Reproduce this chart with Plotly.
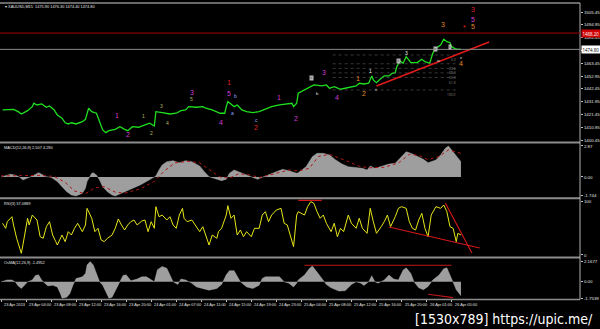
import plotly.graph_objects as go

# ---------------- data (x = M15 bar index) ----------------
price_bars = [1, 8, 11, 13, 17, 20, 21, 23, 26, 29, 31, 34, 36, 39, 41, 43, 45, 48, 52, 54, 56, 58, 61, 63, 65, 67, 69, 73, 76, 79,
              81, 84, 88, 92, 95, 98, 99, 103, 108, 112, 115, 118, 120, 125, 129, 131, 135, 140, 143, 144, 145, 147, 149, 151, 154,
              157, 161, 165, 169, 173, 178, 182, 186, 187, 189, 190, 194, 197, 200, 205, 208, 210, 213, 217, 220, 224, 227, 229,
              232, 235, 237, 238, 240, 243, 245, 248, 250, 252, 253, 255, 257, 259, 262, 266, 269, 271, 274, 276, 278, 281, 283,
              285, 287, 288, 291, 294]
price_vals = [1425.1, 1425.6, 1423.7, 1421.8, 1424.5, 1427.8, 1430.6, 1429.2, 1430.0, 1427.3, 1428.4, 1425.1, 1421.0, 1418.3,
              1414.6, 1413.6, 1414.6, 1413.6, 1415.5, 1417.4, 1426.5, 1423.7, 1422.4, 1415.5, 1408.7, 1406.5, 1408.1, 1409.2,
              1411.4, 1409.2, 1408.1, 1411.4, 1410.9, 1412.8, 1414.2, 1411.9, 1423.7, 1422.9, 1421.8, 1422.4, 1424.5, 1425.1,
              1427.8, 1427.3, 1427.8, 1426.5, 1425.1, 1422.4, 1422.4, 1427.8, 1431.9, 1430.0, 1427.8, 1429.2, 1425.1, 1423.7,
              1422.9, 1423.7, 1425.6, 1427.8, 1429.2, 1430.0, 1430.6, 1427.8, 1430.6, 1438.8, 1441.5, 1444.2, 1445.6, 1444.8,
              1445.6, 1442.9, 1444.2, 1442.1, 1442.9, 1443.7, 1444.8, 1447.0, 1446.4, 1447.0, 1453.0, 1449.7, 1447.5, 1451.1,
              1453.0, 1453.0, 1455.2, 1455.7, 1460.6, 1465.5, 1463.4, 1468.8, 1463.9, 1463.9, 1466.7, 1464.7, 1463.4, 1471.6,
              1475.7, 1478.4, 1483.1, 1481.1, 1480.3, 1477.0, 1474.9, 1474.8]

macd_bars = [0, 6, 9, 12, 14, 17, 20, 24, 26, 29, 32, 36, 39, 42, 45, 48, 52, 54, 55, 58, 59, 61, 63, 65, 68, 71, 73, 76, 80, 84,
             89, 93, 97, 99, 101, 103, 106, 110, 114, 118, 122, 127, 130, 133, 138, 141, 144, 146, 149, 152, 157, 161, 164, 167,
             171, 176, 180, 184, 189, 190, 195, 199, 202, 206, 210, 214, 218, 222, 227, 231, 234, 236, 239, 243, 248, 252, 255,
             259, 262, 266, 270, 273, 278, 281, 284, 286, 289, 292, 294]
macd_hist = [0.0, 0.25, 0.18, -0.03, -0.28, -0.12, 0.09, 0.40, 0.25, 0.03, -0.03, -0.43, -0.90, -1.36, -1.67, -1.76, -1.51,
             -1.05, -0.43, 0.34, 0.40, 0.18, -0.28, -0.90, -1.36, -1.67, -1.76, -1.57, -1.36, -1.05, -0.74, -0.43, -0.12, 0.09,
             0.65, 1.11, 1.42, 1.51, 1.32, 1.51, 1.42, 1.02, 0.49, 0.03, -0.21, -0.34, -0.21, 0.34, 0.65, 0.49, 0.18, -0.03,
             -0.21, -0.03, 0.18, 0.49, 0.71, 0.58, 0.34, 0.40, 0.95, 1.88, 2.19, 2.19, 2.04, 1.57, 1.20, 0.95, 0.90, 0.80, 0.65,
             1.02, 0.80, 0.95, 1.20, 1.27, 1.73, 2.34, 2.19, 1.88, 1.64, 1.32, 1.57, 2.04, 2.66, 2.87, 2.34, 1.73, 1.42]
signal_bars = [0, 12, 25, 34, 41, 47, 54, 60, 66, 73, 79, 89, 98, 104, 111, 120, 127, 133, 140, 146, 152, 159, 165, 175, 184,
               190, 197, 203, 210, 219, 229, 235, 245, 254, 261, 267, 273, 280, 286, 294]
signal_vals = [0.1, 0.1, 0.15, 0.05, -0.5, -1.3, -1.55, -1.0, -0.9, -1.4, -1.5, -1.1, -0.4, 0.5, 1.3, 1.45, 1.3, 0.7, 0.0,
               -0.1, 0.3, 0.2, -0.05, 0.3, 0.65, 0.55, 0.8, 1.9, 2.1, 1.6, 1.0, 0.85, 0.9, 1.3, 2.1, 2.0, 1.6, 1.9, 2.5, 2.2]

rsi_bars = [1, 3, 4, 7, 8, 10, 12, 13, 14, 17, 18, 20, 23, 25, 27, 29, 31, 33, 35, 36, 39, 41, 43, 45, 47, 49, 52, 54, 55, 58,
            60, 62, 64, 66, 68, 71, 73, 75, 77, 79, 81, 83, 85, 87, 90, 92, 94, 96, 98, 99, 101, 103, 106, 108, 110, 112, 114,
            116, 117, 119, 122, 125, 127, 129, 131, 133, 135, 138, 139, 141, 144, 145, 147, 149, 151, 153, 155, 157, 160, 162,
            165, 167, 169, 171, 173, 176, 179, 181, 183, 185, 187, 189, 190, 194, 196, 198, 200, 202, 204, 206, 208, 211, 213,
            215, 217, 219, 222, 224, 227, 229, 231, 234, 236, 238, 240, 243, 245, 247, 249, 252, 254, 256, 259, 261, 263, 265,
            267, 269, 271, 273, 275, 278, 281, 283, 285, 287, 289, 291, 292, 294]
rsi_vals = [58.7, 49.4, 61.7, 70.9, 55.6, 30.9, 12.4, 3.1, 18.5, 68, 55.6, 74, 64.8, 33.9, 30.9, 52.4, 61.7, 37, 24.7, 18.5,
            37, 24.7, 43.2, 37, 49.4, 58.7, 43.2, 55.6, 86.4, 68, 43.2, 49.4, 27.8, 24.7, 30.9, 37, 49.4, 66.7, 55.6, 46.3, 55.6,
            61.7, 64.8, 55.6, 63, 64.8, 43.2, 61.7, 49.4, 89.5, 70.9, 74, 64.8, 70.9, 55.6, 49.4, 74, 86.4, 68, 61.7, 64.8, 52.4,
            43.2, 52.4, 33.9, 18.5, 37, 30.9, 43.2, 49.4, 74, 91.3, 68, 74, 37, 46.3, 33.9, 43.2, 33.9, 49.4, 49.4, 74, 80.2,
            61.7, 74, 83.3, 86.4, 58.7, 55.6, 37, 15.4, 74, 80.2, 74, 89.5, 98.7, 95.7, 80.2, 68, 74, 58.7, 43.2, 58.7, 33.9,
            49.4, 43.2, 74, 58.7, 49.4, 68, 49.4, 40.1, 86.4, 61.7, 40.1, 52.4, 61.7, 74, 52.4, 70.9, 86.4, 89.5, 86.4, 61.7,
            49.4, 46.3, 64.8, 77.2, 49.4, 33.9, 74, 89.5, 86.4, 92.6, 80.2, 52.4, 49.4, 24.7, 40.1, 37.1]

osma_bars = [0, 4, 7, 9, 11, 13, 15, 17, 20, 22, 24, 26, 28, 30, 33, 36, 38, 39, 42, 44, 46, 48, 52, 54, 55, 57, 59, 61, 63,
             65, 67, 69, 71, 74, 76, 78, 80, 83, 87, 90, 93, 96, 98, 100, 103, 106, 108, 110, 113, 115, 118, 122, 125, 129, 133,
             138, 141, 144, 146, 149, 151, 153, 157, 161, 165, 167, 169, 173, 178, 181, 184, 187, 189, 190, 194, 197, 199, 202,
             205, 208, 211, 216, 220, 224, 227, 230, 232, 235, 237, 239, 241, 245, 248, 251, 254, 257, 259, 262, 264, 267, 270,
             273, 276, 280, 283, 285, 287, 289, 291, 294]
osma_vals = [0, 0.2, 0.2, 0, -0.44, -0.72, -0.36, 0, 0.2, 0.68, 0.75, 0.2, -0.16, -0.44, -0.36, -0.55, -1.28, -1.76, -1.65,
             -1.28, -0.36, 0.35, 0.53, 0.9, 1.81, 2.17, 1.81, 0.9, 0, -0.36, -1.1, -1.76, -1.65, -0.72, 0, 0.68, 0.75, 0.1, 0.3,
             0.53, 0.53, 0.2, 0, 1.3, 1.65, 1.45, 0.75, 0, -0.28, 0.3, 0.2, -0.16, -0.55, -0.72, -0.9, -0.72, -0.28, 0.75, 1.2,
             1.2, 0.53, 0, -0.55, -0.72, -0.36, 0.35, 0.53, 0.53, 0.53, 0, -0.16, -0.55, -0.16, 0.2, 0.72, 1.4, 1.7, 1.06, 0.35,
             -0.3, -0.65, -1.0, -0.95, -0.3, 0, -0.15, -0.4, 0, 0.65, 0, -0.15, 0.2, 0.72, 0.3, 0.2, 1.25, 1.5, 0.9, 0, -0.65,
             -0.85, -0.5, 0.2, 0.72, 1.4, 1.5, 0.72, -0.15, -0.85, -1.5]

time_tick_bars = [0, 16, 32, 48, 64, 80, 96, 112, 128, 144, 160, 176, 192, 208, 224, 240, 256, 272, 288]
time_tick_labels = ["23 Apr 2013", "23 Apr 04:00", "23 Apr 08:00", "23 Apr 12:00", "23 Apr 16:00", "23 Apr 20:00",
                    "24 Apr 01:00", "24 Apr 07:00", "24 Apr 11:00", "24 Apr 15:00", "24 Apr 19:00", "24 Apr 23:00",
                    "25 Apr 04:00", "25 Apr 08:00", "25 Apr 12:00", "25 Apr 16:00", "25 Apr 20:00", "26 Apr 01:00",
                    "26 Apr 05:00"]

price_ticks = [1505.45, 1494.95, 1484.45, 1473.95, 1463.45, 1452.95, 1442.45, 1431.95, 1421.45, 1410.95, 1400.45]
macd_ticks = [2.87, 0.0, -1.744]
macd_tick_text = ["2.87", "0.00", "-1.744"]
rsi_ticks = [100, 0]
osma_ticks = [2.1677, 0.0, -1.7539]
osma_tick_text = ["2.1677", "0.00", "-1.7539"]

bid_price = 1474.80
red_level = 1488.2
trend_bars = [240, 312]
trend_prices = [1444.7, 1480.8]
fib_bars = [212, 292]
fib_levels = [1470.2, 1463.0, 1459.2, 1455.5, 1451.7, 1441.5]
fib_labels = ["0.0", "23.6", "38.2", "50.0", "61.8", "100.0"]

rsi_top_bars, rsi_top_vals = [190, 205], [101, 101]
rsi_down_bars, rsi_down_vals = [248, 306], [51.9, 13.0]
rsi_steep_bars, rsi_steep_vals = [284, 301], [96.3, 3.7]
osma_top_bars, osma_top_vals = [194, 288], [1.78, 1.78]
osma_low_bars, osma_low_vals = [273, 289], [-1.34, -1.71]

MAG, OLV, ORG, RED, BLU, WHT = "#d23cd2", "#b8b860", "#e08a2a", "#e02020", "#8fa8ff", "#e8e8e8"
wave_text = ["1", "2", "1", "2", "3", "4", "5", "3", "4", "1", "5", "a", "b", "c", "2", "1", "2", "3", "4", "1", "2",
             "3", "4", "5", "3", "5", "*", "1", "3", "b", "ii", "iv", "v"]
wave_bars = [73.9, 80.9, 91.1, 96.2, 102.5, 106.4, 121.7, 122.3, 140.8, 145.9, 145.9, 147.8, 149.7, 163.1, 163.1, 177.7,
             188.5, 206.4, 214.6, 228.0, 231.8, 282.8, 294.3, 301.9, 301.9, 301.9, 296.2, 236.3, 259.2, 202.5, 239.5, 279.6,
             294.3]
wave_prices = [1420.9, 1404.6, 1420.1, 1406.2, 1428.3, 1414.4, 1434.1, 1439.8, 1414.4, 1448.0, 1439.0, 1422.6, 1436.5,
               1416.9, 1410.3, 1435.7, 1418.5, 1456.2, 1435.7, 1450.5, 1439.0, 1494.8, 1462.8, 1493.2, 1507.1, 1499.7,
               1492.4, 1457.0, 1471.8, 1438.2, 1441.5, 1465.3, 1468.5]
wave_colors = [MAG, MAG, OLV, OLV, OLV, OLV, OLV, MAG, MAG, RED, MAG, BLU, BLU, BLU, RED, MAG, MAG, MAG, MAG, ORG, ORG,
               ORG, ORG, ORG, RED, MAG, RED, WHT, WHT, WHT, WHT, WHT, WHT]
wave_sizes = [7, 7, 5, 5, 5, 5, 5, 7, 7, 7, 7, 5, 5, 5, 7, 7, 7, 7, 7, 7, 7, 7, 7, 7, 7, 7, 7, 5, 5, 4, 4, 4, 4]
box_text = ["iii", "iii", "iv", "v"]
box_bars = [198.7, 254.1, 277.7, 287.3]
box_prices = [1451.3, 1465.3, 1475.1, 1476.7]

# ---------------- geometry ----------------
W, H = 600, 329
ML, MR, MT, MB = 0, 18, 3, 30
PH = H - MT - MB


def py(pix):
    return (H - MB - pix) / PH


XR = [-0.64, 370.1]
D_PRICE = [py(142), py(MT)]
D_MACD = [py(197.5), py(143.5)]
D_RSI = [py(256.5), py(199)]
D_OSMA = [0, py(258.5)]

fig = go.Figure()
fig.add_trace(go.Scatter(x=price_bars, y=price_vals, mode="lines", line=dict(color="#1fe01f", width=1.3),
                         xaxis="x", yaxis="y", hoverinfo="skip"))
for lv in fib_levels:
    fig.add_trace(go.Scatter(x=fib_bars, y=[lv, lv], mode="lines", line=dict(color="#6e6e6e", width=0.5, dash="dot"),
                             xaxis="x", yaxis="y", hoverinfo="skip"))
fig.add_trace(go.Scatter(x=trend_bars, y=trend_prices, mode="lines", line=dict(color="#e01a1a", width=1.6),
                         xaxis="x", yaxis="y", hoverinfo="skip"))

fig.add_trace(go.Scatter(x=macd_bars, y=macd_hist, mode="lines", fill="tozeroy", fillcolor="rgba(175,175,175,0.9)",
                         line=dict(color="#b4b4b4", width=0.4), xaxis="x2", yaxis="y2", hoverinfo="skip"))
fig.add_trace(go.Scatter(x=signal_bars, y=signal_vals, mode="lines", line=dict(color="#b01818", width=1, dash="dot"),
                         xaxis="x2", yaxis="y2", hoverinfo="skip"))

fig.add_trace(go.Scatter(x=rsi_bars, y=rsi_vals, mode="lines", line=dict(color="#e6e619", width=1),
                         xaxis="x3", yaxis="y3", hoverinfo="skip"))
for xs, ys in [(rsi_top_bars, rsi_top_vals), (rsi_down_bars, rsi_down_vals), (rsi_steep_bars, rsi_steep_vals)]:
    fig.add_trace(go.Scatter(x=xs, y=ys, mode="lines", line=dict(color="#d01818", width=1.2),
                             xaxis="x3", yaxis="y3", hoverinfo="skip"))

fig.add_trace(go.Scatter(x=osma_bars, y=osma_vals, mode="lines", fill="tozeroy", fillcolor="rgba(175,175,175,0.9)",
                         line=dict(color="#b4b4b4", width=0.4), xaxis="x4", yaxis="y4", hoverinfo="skip"))
for xs, ys in [(osma_top_bars, osma_top_vals), (osma_low_bars, osma_low_vals)]:
    fig.add_trace(go.Scatter(x=xs, y=ys, mode="lines", line=dict(color="#c01818", width=1.2),
                             xaxis="x4", yaxis="y4", hoverinfo="skip"))

TF = dict(color="#e0e0e0", size=4.4, family="Liberation Sans, Arial, sans-serif")
SF = dict(color="#e0e0e0", size=3.9, family="Liberation Sans Narrow, Liberation Sans, sans-serif")
hidden_x = dict(range=XR, showgrid=False, zeroline=False, showticklabels=False, showline=False, ticks="")


def yax(dom, rng, tv, tt, anchor):
    return dict(domain=dom, range=rng, side="right", anchor=anchor, tickvals=tv, ticktext=tt, tickfont=TF,
                ticks="outside", ticklen=2, tickcolor="#c0c0c0", showgrid=False, zeroline=False, showline=False)


layout = dict(
    width=W, height=H, margin=dict(l=ML, r=MR, t=MT, b=MB),
    paper_bgcolor="black", plot_bgcolor="black", showlegend=False,
    xaxis=dict(hidden_x, domain=[0, 1], anchor="y"),
    xaxis2=dict(hidden_x, domain=[0, 1], anchor="y2", matches="x"),
    xaxis3=dict(hidden_x, domain=[0, 1], anchor="y3", matches="x"),
    xaxis4=dict(range=XR, domain=[0, 1], anchor="y4", matches="x", showgrid=False, zeroline=False,
                showticklabels=False, showline=False, ticks="outside", ticklen=2, tickcolor="#c0c0c0",
                tickvals=time_tick_bars),
    yaxis=yax(D_PRICE, [1398.81, 1512.83], price_ticks, [f"{v:.2f}" for v in price_ticks], "x"),
    yaxis2=yax(D_MACD, [-1.90, 3.10], macd_ticks, macd_tick_text, "x2"),
    yaxis3=yax(D_RSI, [-2.8, 103.7], rsi_ticks, [str(v) for v in rsi_ticks], "x3"),
    yaxis4=yax(D_OSMA, [-1.85, 2.505], osma_ticks, osma_tick_text, "x4"),
)
fig.update_layout(**layout)

shapes = []
GR = "#8c8c8c"
for pix, w in [(MT, 1.5), (142.5, 2), (198.3, 2), (257.6, 2), (299.5, 1.5)]:
    shapes.append(dict(type="line", xref="paper", yref="paper", x0=0, x1=1, y0=py(pix), y1=py(pix),
                       line=dict(color=GR, width=w)))
shapes.append(dict(type="line", xref="paper", yref="paper", x0=1, x1=1, y0=py(299.5), y1=py(MT),
                   line=dict(color="#b0b0b0", width=1)))
shapes.append(dict(type="line", xref="paper", yref="y", x0=0, x1=1, y0=red_level, y1=red_level,
                   line=dict(color="#a00000", width=1)))
shapes.append(dict(type="line", xref="paper", yref="y", x0=0, x1=1, y0=bid_price, y1=bid_price,
                   line=dict(color="#8a8a8a", width=1)))
fig.update_layout(shapes=shapes)

ann = []
for b, lab in zip(time_tick_bars, time_tick_labels):
    ann.append(dict(x=b, y=py(304.5), xref="x4", yref="paper", text=lab, showarrow=False, xanchor="left",
                    yanchor="middle", xshift=1, font=SF))
titles = [("\u25be XAUUSD,M15  1475.90 1476.30 1474.40 1474.80", 6.5, 0.006),
          ("MACD(12,26,9) 2.507 4.290", 147.5, 0.003),
          ("RSI(3) 37.0889", 203, 0.003),
          ("OsMA(12,26,9) -1.4952", 262.5, 0.003)]
for txt, pix, xx in titles:
    ann.append(dict(x=xx, y=py(pix), xref="paper", yref="paper", text=txt, showarrow=False, xanchor="left",
                    yanchor="middle", font=SF))
for t, b, p, c, s in zip(wave_text, wave_bars, wave_prices, wave_colors, wave_sizes):
    ann.append(dict(x=b, y=p, xref="x", yref="y", text=t, showarrow=False, font=dict(color=c, size=s,
                    family="Liberation Sans, Arial, sans-serif")))
for t, b, p in zip(box_text, box_bars, box_prices):
    ann.append(dict(x=b, y=p, xref="x", yref="y", text=t, showarrow=False, bgcolor="#b8b8b8", borderpad=0,
                    font=dict(color="#303030", size=3)))
for lv, lab in zip(fib_levels, fib_labels):
    ann.append(dict(x=fib_bars[1], y=lv, xref="x", yref="y", text=lab, showarrow=False, xanchor="right",
                    yanchor="top", font=dict(color="#8a8a8a", size=3.3)))
ann.append(dict(x=1.002, y=red_level, xref="paper", yref="y", text="1488.20", showarrow=False, xanchor="left",
                bgcolor="#d00000", borderpad=0.5, font=dict(color="white", size=4.4)))
ann.append(dict(x=1.002, y=bid_price, xref="paper", yref="y", text=f"{bid_price:.2f}", showarrow=False,
                xanchor="left", bgcolor="white", borderpad=0.5, font=dict(color="black", size=4.4)))
ann.append(dict(x=(597 - ML) / (W - ML - MR), y=py(318.5), xref="paper", yref="paper",
                text="[1530x789] https://upic.me/", showarrow=False, xanchor="right", yanchor="middle",
                font=dict(color="white", size=14, family="Liberation Sans Narrow, DejaVu Sans Condensed, sans-serif")))
fig.update_layout(annotations=ann)

fig.write_html("out.html")
